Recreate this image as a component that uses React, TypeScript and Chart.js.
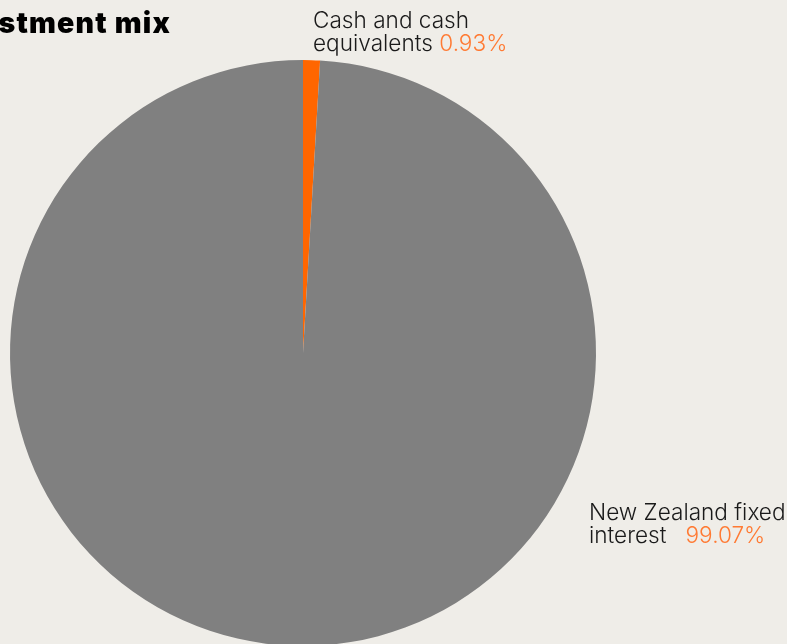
import React, { useEffect, useRef } from "react";
import { Chart, registerables } from "chart.js";

Chart.register(...registerables);

const categories = ["Cash and cash equivalents", "New Zealand fixed interest"];
const values = [0.93, 99.07];
const labelLines = [
  ["Cash and cash", "equivalents"],
  ["New Zealand fixed", "interest  "],
];
const valueLabels = ["0.93%", "99.07%"];
const title = "Investment mix";

const BG = "#efede8";
const SLICE_COLORS = ["#ff6600", "#808080"];
const TEXT_ORANGE = "#ff7a33";
const TEXT_DARK = "#1a1a1a";

const labelPlugin = {
  id: "sliceLabels",
  afterDraw(chart: any) {
    const ctx = chart.ctx;
    ctx.save();
    // title
    ctx.font = "900 28.5px Inter, 'DejaVu Sans', sans-serif";
    ctx.fillStyle = "#000";
    ctx.textAlign = "right";
    ctx.textBaseline = "alphabetic";
    try { (ctx as any).letterSpacing = "1.2px"; } catch (e) {}
    ctx.fillText(title, 171, 33);
    try { (ctx as any).letterSpacing = "0px"; } catch (e) {}

    const anchors = [
      { x: 313, y: 28 },
      { x: 589, y: 520 },
    ];
    ctx.textAlign = "left";
    ctx.font = "300 22.6px Inter, 'DejaVu Sans', sans-serif";
    labelLines.forEach((lines, i) => {
      const a = anchors[i];
      lines.forEach((line, j) => {
        const y = a.y + j * 22.5;
        ctx.fillStyle = TEXT_DARK;
        ctx.fillText(line, a.x, y);
        if (j === lines.length - 1) {
          const w = ctx.measureText(line + " ").width;
          ctx.fillStyle = TEXT_ORANGE;
          ctx.fillText(valueLabels[i], a.x + w, y);
        }
      });
    });
    ctx.restore();
  },
};

export default function App() {
  const ref = useRef<HTMLCanvasElement | null>(null);
  useEffect(() => {
    document.body.style.margin = "0";
    document.body.style.background = BG;
    document.body.style.overflow = "hidden";
    const chart = new Chart(ref.current!, {
      type: "pie",
      data: {
        labels: categories,
        datasets: [
          {
            data: values,
            backgroundColor: SLICE_COLORS,
            borderWidth: 0,
          },
        ],
      },
      options: {
        animation: false,
        responsive: false,
        maintainAspectRatio: false,
        layout: { padding: { left: 10, right: 191, top: 60, bottom: 54 } },
        plugins: {
          legend: { display: false },
          tooltip: { enabled: false },
          title: { display: false },
        },
      },
      plugins: [labelPlugin],
    });
    return () => chart.destroy();
  }, []);
  return (
    <div style={{ position: "fixed", left: 0, top: 0, width: 787, height: 700, background: BG, overflow: "hidden" }}>
      <canvas ref={ref} width={787} height={700} style={{ width: 787, height: 700 }} />
    </div>
  );
}
